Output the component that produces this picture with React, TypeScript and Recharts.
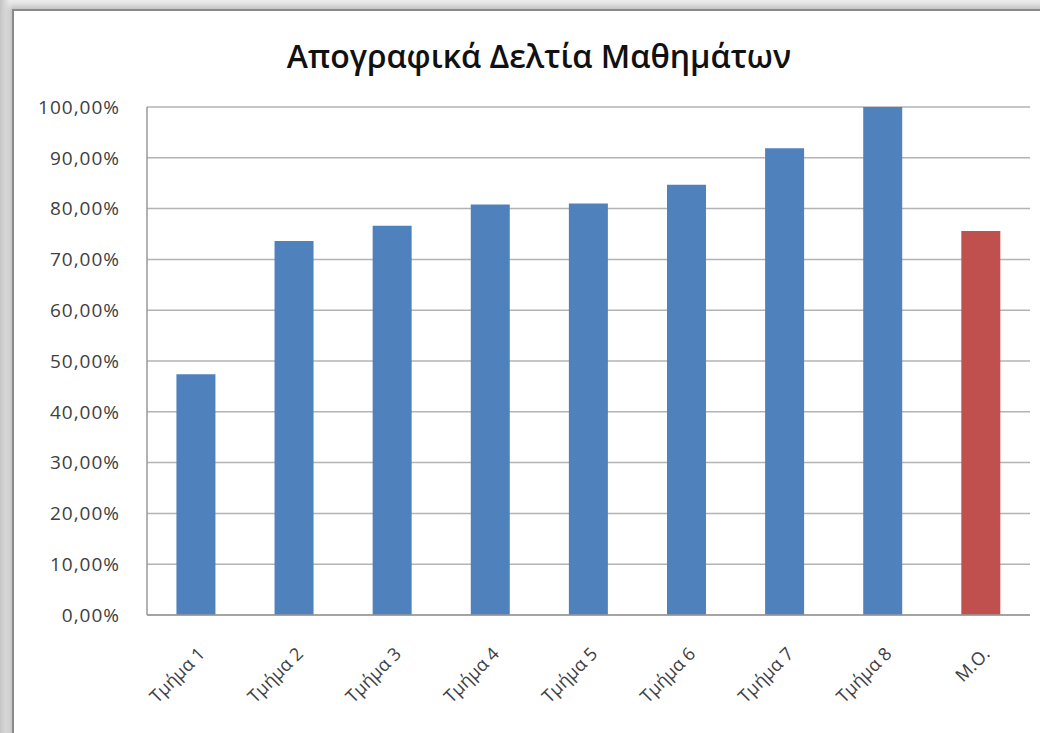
import React from "react";
import { BarChart, Bar, XAxis, YAxis, CartesianGrid, Cell } from "recharts";

const categories = ["Τμήμα 1", "Τμήμα 2", "Τμήμα 3", "Τμήμα 4", "Τμήμα 5", "Τμήμα 6", "Τμήμα 7", "Τμήμα 8", "Μ.Ο."];
const values = [47.4, 73.6, 76.6, 80.8, 81.0, 84.7, 91.9, 100.0, 75.6];
const yTicks = [0, 10, 20, 30, 40, 50, 60, 70, 80, 90, 100];
const title = "Απογραφικά Δελτία Μαθημάτων";
const averageLabel = "Μ.Ο.";

const data = categories.map((c, i) => ({ name: c, value: values[i] }));

const fmt = (v: number) => `${v.toFixed(2).replace(".", ",")}%`;

const XTick = (props: any) => {
  const { x, y, payload } = props;
  return (
    <g transform={`translate(${x + 10},${y + 32})`}>
      <text
        x={0}
        y={0}
        textAnchor="end"
        transform="rotate(-45)"
        fill="#404040"
        fontSize={18}
        fontFamily="'Open Sans', sans-serif"
      >
        {payload.value}
      </text>
    </g>
  );
};

export default function App() {
  return (
    <div
      style={{
        position: "absolute",
        left: 0,
        top: 0,
        width: 1040,
        height: 733,
        background: "linear-gradient(90deg, #c4c4c4 0px, #ececec 10px, #ececec 100%)",
        overflow: "hidden",
      }}
    >
      <div
        style={{
          position: "absolute",
          left: 12,
          top: 9,
          width: 1040,
          height: 740,
          background: "#ffffff",
          borderLeft: "2px solid #8a8a8a",
          borderTop: "2px solid #8a8a8a",
          boxShadow: "-3px -3px 6px rgba(0,0,0,0.2)",
        }}
      />
      <div
        style={{
          position: "absolute",
          left: 0,
          top: 34,
          width: 1078,
          textAlign: "center",
          fontFamily: "'Open Sans', sans-serif",
          fontWeight: 600,
          fontSize: 32,
          color: "#111",
        }}
      >
        {title}
      </div>
      <div style={{ position: "absolute", left: 0, top: 0 }}>
        <BarChart
          width={1040}
          height={733}
          data={data}
          margin={{ top: 107, right: 10, bottom: 18, left: 0 }}
          barCategoryGap="30%"
        >
          <CartesianGrid vertical={false} stroke="#b3b3b3" strokeWidth={1.5} />
          <XAxis
            dataKey="name"
            interval={0}
            height={100}
            tickLine={false}
            axisLine={{ stroke: "#999", strokeWidth: 1.5 }}
            tick={<XTick />}
          />
          <YAxis
            width={147}
            domain={[0, 100]}
            ticks={yTicks}
            tickFormatter={fmt}
            tickLine={false}
            tickSize={0}
            tickMargin={27}
            axisLine={{ stroke: "#999", strokeWidth: 1.5 }}
            tick={{ fill: "#404040", fontSize: 19, fontFamily: "'Open Sans', sans-serif", letterSpacing: 1 }}
          />
          <Bar dataKey="value" isAnimationActive={false}>
            {data.map((d, i) => (
              <Cell key={i} fill={d.name === averageLabel ? "#C0504D" : "#4F81BD"} />
            ))}
          </Bar>
        </BarChart>
      </div>
    </div>
  );
}
